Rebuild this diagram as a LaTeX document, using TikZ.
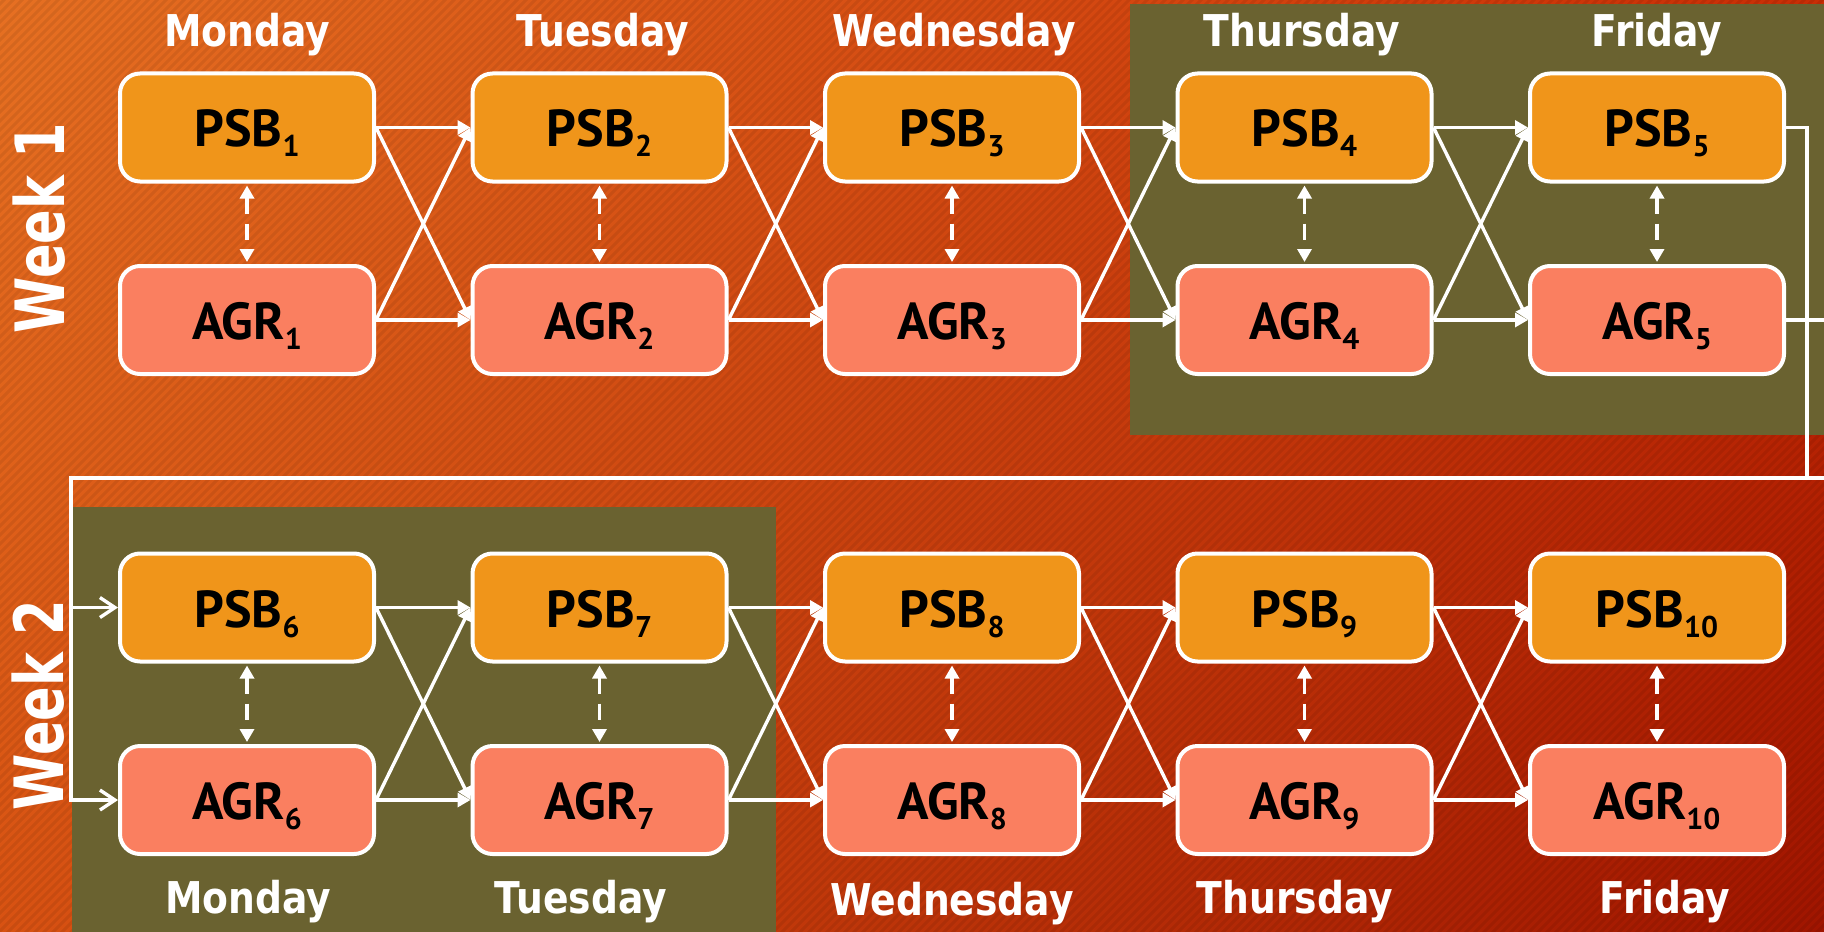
\documentclass[tikz,border=0pt]{standalone}
\usepackage{fontspec}
\usetikzlibrary{arrows.meta,shadings}
\newfontfamily\dayfont[FakeStretch=0.86]{DejaVu Sans}
\newfontfamily\boxfont{PT Sans}
\newfontfamily\weekfont[FakeStretch=0.75]{DejaVu Sans}
\definecolor{bgUL}{RGB}{230,112,34}
\definecolor{bgUR}{RGB}{200,45,5}
\definecolor{bgLL}{RGB}{216,82,18}
\definecolor{bgLR}{RGB}{160,21,0}
\definecolor{olivebg}{HTML}{6A6230}
\definecolor{psbc}{HTML}{F0951A}
\definecolor{agrc}{HTML}{FA7F60}
\newcommand\sbs[1]{\raisebox{-5pt}{\fontsize{15}{15}\selectfont #1}}
\tikzset{
  daybox/.style={draw=white, line width=2pt, rounded corners=10pt,
    minimum width=127pt, minimum height=54pt, inner sep=0pt,
    text height=19.5pt, text depth=0pt,
    font=\boxfont\bfseries\fontsize{26}{26}\selectfont, text=black},
  psb/.style={daybox, fill=psbc},
  agr/.style={daybox, fill=agrc},
  daylabel/.style={anchor=base, text=white, font=\dayfont\bfseries\fontsize{21.9}{24}\selectfont},
  weeklabel/.style={anchor=base, rotate=90, text=white, font=\weekfont\bfseries\fontsize{34}{36}\selectfont},
  flow/.style={draw=white, line width=1.7pt, -{Triangle[length=6.5pt,width=7pt]}},
  dflow/.style={draw=white, line width=1.7pt, dash pattern=on 8pt off 5pt,
    {Triangle[length=6.5pt,width=7pt]}-{Triangle[length=6.5pt,width=7pt]}, shorten <=1pt, shorten >=1pt},
  link/.style={draw=white, line width=1.7pt, -{Straight Barb[length=7.5pt,width=10pt]}},
  stripe/.style={draw=black, line width=1.5pt, draw opacity=0.07}
}
\begin{document}
\begin{tikzpicture}[x=0.5pt,y=-0.5pt]
\useasboundingbox (0,0) rectangle (1824,931);
\clip (0,0) rectangle (1824,931);
% background
\shade[upper left=bgUL, upper right=bgUR, lower left=bgLL, lower right=bgLR] (0,0) rectangle (1824,931);
\foreach \k in {-940,-931,...,1830} {
  \draw[stripe] (\k,935) -- ++(940,-940);
}
\fill[olivebg] (1130,4) rectangle (1830,435);
\fill[olivebg] (72,507) rectangle (776,940);
% week labels
\node[weeklabel] (w1) at (64,228) {Week 1};
\node[weeklabel] (w2) at (63,705) {Week 2};
% day labels
\node[daylabel] (d1) at (247,47) {Monday};
\node[daylabel] (d2) at (603,47) {Tuesday};
\node[daylabel] (d3) at (954,47) {Wednesday};
\node[daylabel] (d4) at (1302,47) {Thursday};
\node[daylabel] (d5) at (1657,47) {Friday};
\node[daylabel] (d6) at (248,913) {Monday};
\node[daylabel] (d7) at (581,913) {Tuesday};
\node[daylabel] (d8) at (952,915) {Wednesday};
\node[daylabel] (d9) at (1295,913) {Thursday};
\node[daylabel] (d10) at (1665,913) {Friday};
% boxes
\foreach \i in {1,...,5} {
  \pgfmathsetmacro\cx{247+352.5*(\i-1)}
  \pgfmathtruncatemacro\j{\i+5}
  \node[psb] (P\i) at (\cx,127.5) {PSB\sbs{\i}};
  \node[agr] (A\i) at (\cx,320) {AGR\sbs{\i}};
  \node[psb] (P\j) at (\cx,607.5) {PSB\sbs{\j}};
  \node[agr] (A\j) at (\cx,800) {AGR\sbs{\j}};
}
% connectors
\foreach \i in {1,2,3,4,6,7,8,9} {
  \pgfmathtruncatemacro\n{\i+1}
  \draw[flow] (P\i.east) -- (P\n.west);
  \draw[flow] (P\i.east) -- (A\n.west);
  \draw[flow] (A\i.east) -- (P\n.west);
  \draw[flow] (A\i.east) -- (A\n.west);
}
\foreach \i in {1,...,10} {
  \draw[dflow] (P\i.south) -- (A\i.north);
}
% link week 1 -> week 2
\coordinate (r1) at (1807,478);
\coordinate (r2) at (1835,478);
\coordinate (bus) at (71,478);
\draw[link] (P5.east) -| (r1) -- (bus) |- (P6.west);
\draw[link] (A5.east) -| (r2) -- (bus) |- (A6.west);
\end{tikzpicture}
\end{document}
